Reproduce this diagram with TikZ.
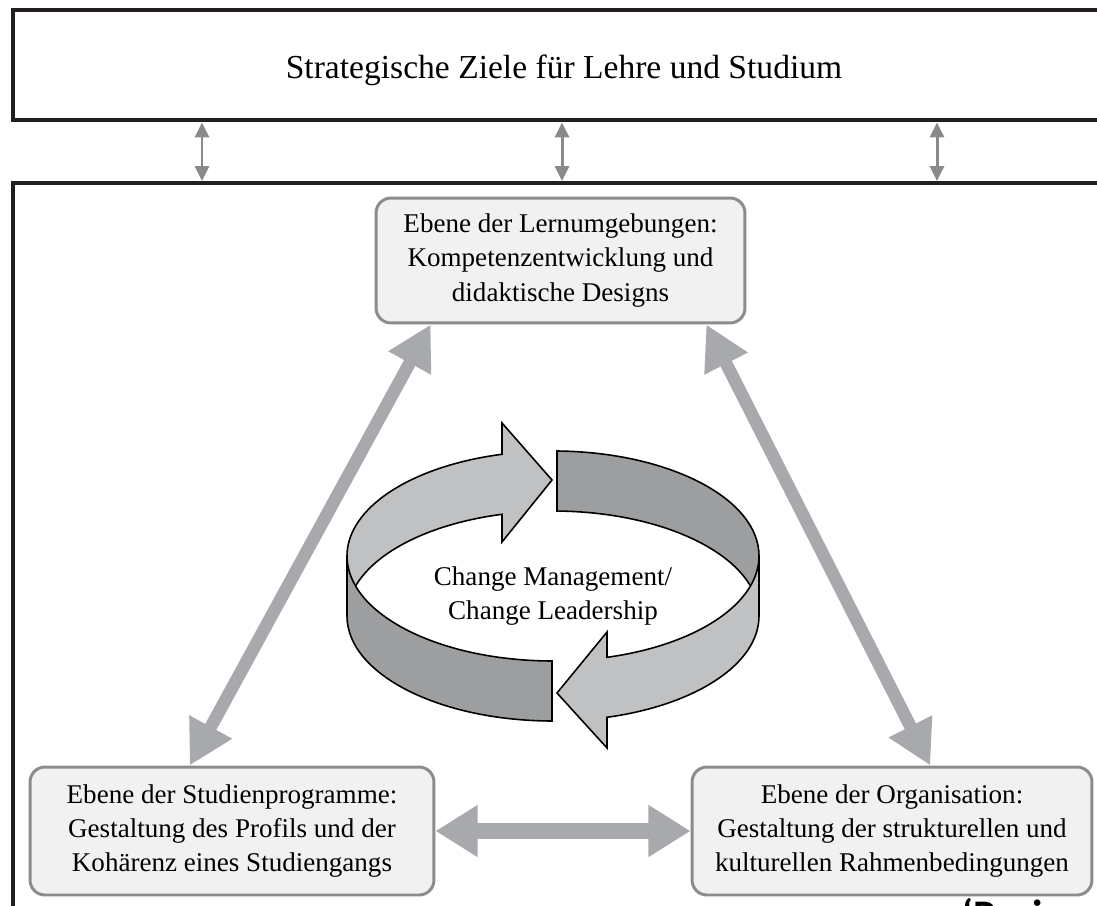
\documentclass[tikz,border=0pt]{standalone}
\usepackage{fontspec}
\setmainfont{Liberation Serif}
\newfontfamily\capfont{Carlito}
\usetikzlibrary{arrows.meta,calc}
\definecolor{frameblack}{HTML}{231F20}
\definecolor{smallarrow}{HTML}{8A8A8A}
\definecolor{bigarrow}{HTML}{A7A9AC}
\definecolor{boxborder}{HTML}{8C8C8C}
\definecolor{boxfill}{HTML}{F1F1F1}
\definecolor{ringlight}{HTML}{C0C1C3}
\definecolor{ringdark}{HTML}{9D9EA0}
\tikzset{
  frameline/.style={draw=frameblack,line width=2.7pt},
  smallarr/.style={draw=smallarrow,line width=1.7pt,{Triangle[width=8pt,length=8.5pt]}-{Triangle[width=8pt,length=8.5pt]}},
  diagarr/.style={draw=bigarrow,line width=7.2pt,{Triangle[width=26pt,length=25pt]}-{Triangle[width=26pt,length=25pt]}},
  horarr/.style={draw=bigarrow,line width=9.4pt,{Triangle[width=28pt,length=24pt]}-{Triangle[width=28pt,length=24pt]}},
  levelbox/.style={draw=boxborder,fill=boxfill,line width=1.7pt,rounded corners=8.5pt,
     align=center,inner sep=0pt,font=\fontsize{15.4}{19.6}\selectfont},
  ringpart/.style={draw=black,line width=0.9pt,line join=miter},
}
\begin{document}
\begin{tikzpicture}[x=0.02cm,y=-0.02cm]
\useasboundingbox (0,0) rectangle (1097,905);
% frames
\draw[frameline] (1110,10) -- (13,10) -- (13,120) -- (1110,120);
\draw[frameline] (1110,183) -- (13,183) -- (13,920);
\node[anchor=base,font=\fontsize{19.1}{23}\selectfont] (title) at (564,79) {Strategische Ziele für Lehre und Studium};
% small arrows
\foreach \i/\xx in {1/202,2/562,3/937}{
  \coordinate (u\i) at (\xx,122.5);
  \coordinate (l\i) at (\xx,181);
  \draw[smallarr] (u\i) -- (l\i);
}
% level boxes
\node[levelbox,minimum width=7.38cm,minimum height=2.5cm] (lern) at (560.5,260.5)
  {Ebene der Lernumgebungen:\\Kompetenzentwicklung und\\didaktische Designs};
\node[levelbox,minimum width=8.08cm,minimum height=2.56cm] (stud) at (232,831)
  {Ebene der Studienprogramme:\\Gestaltung des Profils und der\\Kohärenz eines Studiengangs};
\node[levelbox,minimum width=8.0cm,minimum height=2.56cm] (org) at (892,831)
  {Ebene der Organisation:\\Gestaltung der strukturellen und\\kulturellen Rahmenbedingungen};
% big arrows
\draw[diagarr] ($(lern.south west)!0.151!(lern.south east)$) -- ($(stud.north west)!0.396!(stud.north east)$);
\draw[diagarr] ($(lern.south west)!0.892!(lern.south east)$) -- ($(org.north west)!0.595!(org.north east)$);
\draw[horarr] (stud.east) -- (org.west);
% ring: back light arrow
\path[ringpart,fill=ringlight] (347,556) arc[start angle=180,end angle=255.67,x radius=206,y radius=105]
  -- (502,423) -- (552,480) -- (502,542) -- (502,514.3)
  arc[start angle=255.67,end angle=180,x radius=206,y radius=105] -- cycle;
% back dark part
\path[ringpart,fill=ringdark] (557,451) arc[start angle=271.11,end angle=360,x radius=206,y radius=105]
  -- (759,616) arc[start angle=360,end angle=271.11,x radius=206,y radius=105] -- cycle;
% front dark part
\path[ringpart,fill=ringdark] (347,556) arc[start angle=180,end angle=90.28,x radius=206,y radius=105]
  -- (552,721) arc[start angle=90.28,end angle=180,x radius=206,y radius=105] -- cycle;
% front light arrow
\path[ringpart,fill=ringlight] (759,556) arc[start angle=0,end angle=74.8,x radius=206,y radius=105]
  -- (607,632) -- (557,693) -- (607,748) -- (607,717.3)
  arc[start angle=74.8,end angle=0,x radius=206,y radius=105] -- cycle;
\node[align=center,font=\fontsize{15.4}{19.4}\selectfont,inner sep=0pt] (cm) at (553,596)
  {Change Management/\\Change Leadership};
% cut-off caption fragment
\node[anchor=base west,inner sep=0pt,font=\capfont\bfseries\fontsize{24}{28}\selectfont] (frag) at (962,929) {‘Reri};
\end{tikzpicture}
\end{document}
